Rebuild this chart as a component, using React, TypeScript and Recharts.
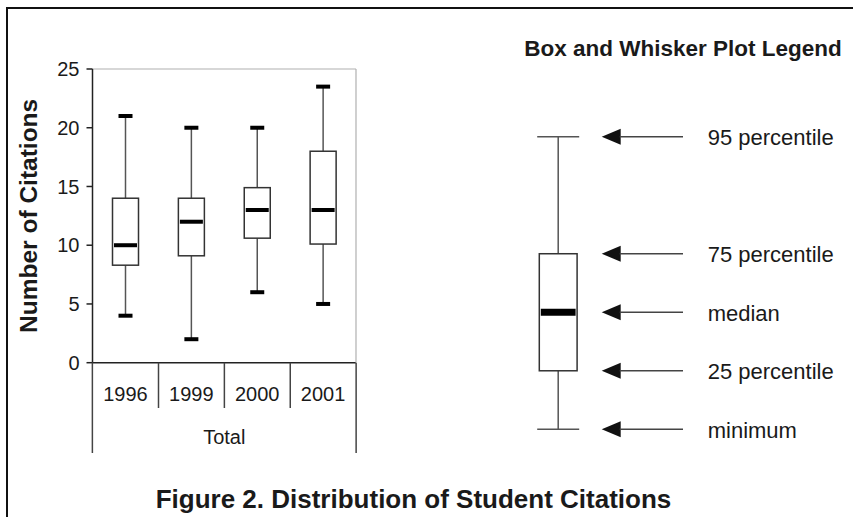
import React from 'react';
import { ComposedChart, Bar, XAxis, YAxis, ReferenceLine } from 'recharts';

// ---- main chart data ----
const years = ['1996', '1999', '2000', '2001'];
const minimums = [4, 2, 6, 5];
const q1s = [8.3, 9.1, 10.6, 10.1];
const medians = [10, 12, 13, 13];
const q3s = [14, 14, 14.9, 18];
const maximums = [21, 20, 20, 23.5];
const yTicks = [0, 5, 10, 15, 20, 25];

// ---- legend (schematic) data ----
const legendStats = { min: 0, q1: 1, median: 2, q3: 3, max: 5 };
const legendLabels = ['95 percentile', '75 percentile', 'median', '25 percentile', 'minimum'];
const legendValues = [5, 3, 2, 1, 0];

const FONT = '"Liberation Sans", Arial, Helvetica, sans-serif';
const TEXT = '#1a1a1a';

const data = years.map((year, i) => ({
  year,
  range: [minimums[i], maximums[i]],
  min: minimums[i],
  q1: q1s[i],
  median: medians[i],
  q3: q3s[i],
  max: maximums[i],
}));

const legendData = [{ name: 'legend', range: [legendStats.min, legendStats.max], ...legendStats }];

type BoxOpts = {
  capWidth: number;
  capThick: number;
  capColor: string;
  medianThick: number;
  whisker: string;
};

const makeBoxShape = (o: BoxOpts) => (props: any) => {
  const { x, y, width, height, payload } = props;
  if (payload == null) return null;
  const top = Math.min(y, y + height);
  const h = Math.abs(height);
  const bottom = top + h;
  const lo = payload.min;
  const hi = payload.max;
  const pix = (v: number) => bottom - ((v - lo) / (hi - lo)) * h;
  const cx = x + width / 2;
  const yMax = pix(hi);
  const yMin = pix(lo);
  const yQ3 = pix(payload.q3);
  const yQ1 = pix(payload.q1);
  const yMed = pix(payload.median);
  return (
    <g>
      <line x1={cx} x2={cx} y1={yMax} y2={yQ3} stroke={o.whisker} strokeWidth={1.5} />
      <line x1={cx} x2={cx} y1={yQ1} y2={yMin} stroke={o.whisker} strokeWidth={1.5} />
      <line x1={cx - o.capWidth / 2} x2={cx + o.capWidth / 2} y1={yMax} y2={yMax} stroke={o.capColor} strokeWidth={o.capThick} />
      <line x1={cx - o.capWidth / 2} x2={cx + o.capWidth / 2} y1={yMin} y2={yMin} stroke={o.capColor} strokeWidth={o.capThick} />
      <rect x={x} y={yQ3} width={width} height={yQ1 - yQ3} fill="#fff" stroke="#333" strokeWidth={1.5} />
      <line x1={x + 1.5} x2={x + width - 1.5} y1={yMed} y2={yMed} stroke="#000" strokeWidth={o.medianThick} />
    </g>
  );
};

const mainBox = makeBoxShape({ capWidth: 14, capThick: 4, capColor: '#000', medianThick: 4, whisker: '#555' });
const legendBox = makeBoxShape({ capWidth: 42, capThick: 1.5, capColor: '#555', medianThick: 7, whisker: '#555' });

// layout constants (main chart)
const CHART_W = 400;
const CHART_H = 470;
const PLOT_LEFT = 92.5;
const PLOT_RIGHT = 357;
const PLOT_TOP = 69;
const X_AXIS_H = 95;
const BAND_HALF = (PLOT_RIGHT - PLOT_LEFT) / years.length / 2;

const XTick = (props: any) => {
  const { x, y, payload } = props;
  const idx = years.indexOf(String(payload.value));
  const last = years.length - 1;
  return (
    <g>
      <text x={x} y={y + 31} textAnchor="middle" dominantBaseline="central" fontSize={20} fill={TEXT} fontFamily={FONT}>
        {payload.value}
      </text>
      <line
        x1={x + BAND_HALF}
        x2={x + BAND_HALF}
        y1={y}
        y2={idx === last ? y + 90.3 : y + 45.3}
        stroke="#444"
        strokeWidth={1.5}
      />
      {idx === 0 && <line x1={x - BAND_HALF} x2={x - BAND_HALF} y1={y} y2={y + 90.3} stroke="#444" strokeWidth={1.5} />}
    </g>
  );
};

const TotalLabel = (props: any) => {
  const vb = props.viewBox || {};
  return (
    <text x={vb.x + vb.width / 2} y={vb.y + 74.3} textAnchor="middle" dominantBaseline="central" fontSize={20} fill={TEXT} fontFamily={FONT}>
      Total
    </text>
  );
};

const YLabel = (props: any) => {
  const vb = props.viewBox || {};
  const lx = vb.x - 3.5;
  const ly = vb.y + vb.height / 2;
  return (
    <text
      x={lx}
      y={ly}
      transform={`rotate(-90, ${lx}, ${ly})`}
      textAnchor="middle"
      dominantBaseline="central"
      fontSize={24.5}
      fontWeight="bold"
      fill={TEXT}
      fontFamily={FONT}
    >
      Number of Citations
    </text>
  );
};

const ArrowShape = (props: any) => {
  const { x1, x2, y1, text } = props;
  const right = Math.max(x1, x2);
  const tip = right + 22.4;
  return (
    <g>
      <polygon points={`${tip},${y1} ${tip + 19},${y1 - 8} ${tip + 19},${y1 + 8}`} fill="#111" />
      <line x1={tip + 18} x2={tip + 81.3} y1={y1} y2={y1} stroke="#444" strokeWidth={1.5} />
      <text x={tip + 106} y={y1 + 1} dominantBaseline="central" fontSize={22} fill={TEXT} fontFamily={FONT}>
        {text}
      </text>
    </g>
  );
};

export default function App() {
  return (
    <div style={{ position: 'fixed', left: 0, top: 0, width: 853, height: 517, background: '#fff', fontFamily: FONT }}>
      <div
        style={{
          position: 'absolute',
          left: 6,
          top: 7,
          width: 847,
          height: 510,
          borderTop: '2px solid #111',
          borderLeft: '2px solid #111',
          boxSizing: 'border-box',
        }}
      />
      <div style={{ position: 'absolute', left: 0, top: 0 }}>
        <ComposedChart
          width={CHART_W}
          height={CHART_H}
          data={data}
          margin={{ top: PLOT_TOP, right: CHART_W - PLOT_RIGHT, left: PLOT_LEFT - 60, bottom: CHART_H - 362.7 - X_AXIS_H }}
          barCategoryGap={0}
        >
          <XAxis
            dataKey="year"
            height={X_AXIS_H}
            tickLine={false}
            tickSize={0}
            tickMargin={0}
            axisLine={{ stroke: '#222', strokeWidth: 1.5 }}
            tick={<XTick />}
            interval={0}
            label={<TotalLabel />}
          />
          <YAxis
            type="number"
            domain={[0, 25]}
            ticks={yTicks}
            width={60}
            tickSize={6}
            tickMargin={7}
            tick={{ fontSize: 20, fill: TEXT, fontFamily: FONT }}
            tickLine={{ stroke: '#222', strokeWidth: 1.5 }}
            axisLine={{ stroke: '#222', strokeWidth: 1.5 }}
            label={<YLabel />}
          />
          <YAxis
            yAxisId="right"
            orientation="right"
            type="number"
            domain={[0, 25]}
            width={1}
            tick={false}
            tickLine={false}
            axisLine={{ stroke: '#b0b0b0', strokeWidth: 1.2 }}
          />
          <ReferenceLine y={25} stroke="#b0b0b0" strokeWidth={1.2} />
          <Bar dataKey="range" barSize={26} shape={mainBox} isAnimationActive={false} />
        </ComposedChart>
      </div>

      <div style={{ position: 'absolute', left: 500, top: 0 }}>
        <ComposedChart
          width={353}
          height={470}
          data={legendData}
          margin={{ top: 136.7, right: 353 - 79.3, left: 37.3, bottom: 470 - 429.3 }}
          barCategoryGap={0}
        >
          <XAxis dataKey="name" hide />
          <YAxis type="number" domain={[legendStats.min, legendStats.max]} hide />
          <Bar dataKey="range" barSize={42} shape={legendBox} isAnimationActive={false} />
          {legendValues.map((v, i) => (
            <ReferenceLine
              key={legendLabels[i]}
              y={v}
              stroke="none"
              shape={(p: any) => <ArrowShape {...p} text={legendLabels[i]} />}
            />
          ))}
        </ComposedChart>
      </div>

      <div
        style={{
          position: 'absolute',
          left: 513,
          top: 37,
          width: 340,
          textAlign: 'center',
          fontSize: 22.5,
          lineHeight: '24px',
          fontWeight: 'bold',
          color: TEXT,
          whiteSpace: 'nowrap',
        }}
      >
        Box and Whisker Plot Legend
      </div>

      <div
        style={{
          position: 'absolute',
          left: 0,
          top: 485,
          width: 827,
          textAlign: 'center',
          fontSize: 26,
          lineHeight: '28px',
          fontWeight: 'bold',
          color: TEXT,
          whiteSpace: 'nowrap',
        }}
      >
        Figure 2. Distribution of Student Citations
      </div>
    </div>
  );
}
